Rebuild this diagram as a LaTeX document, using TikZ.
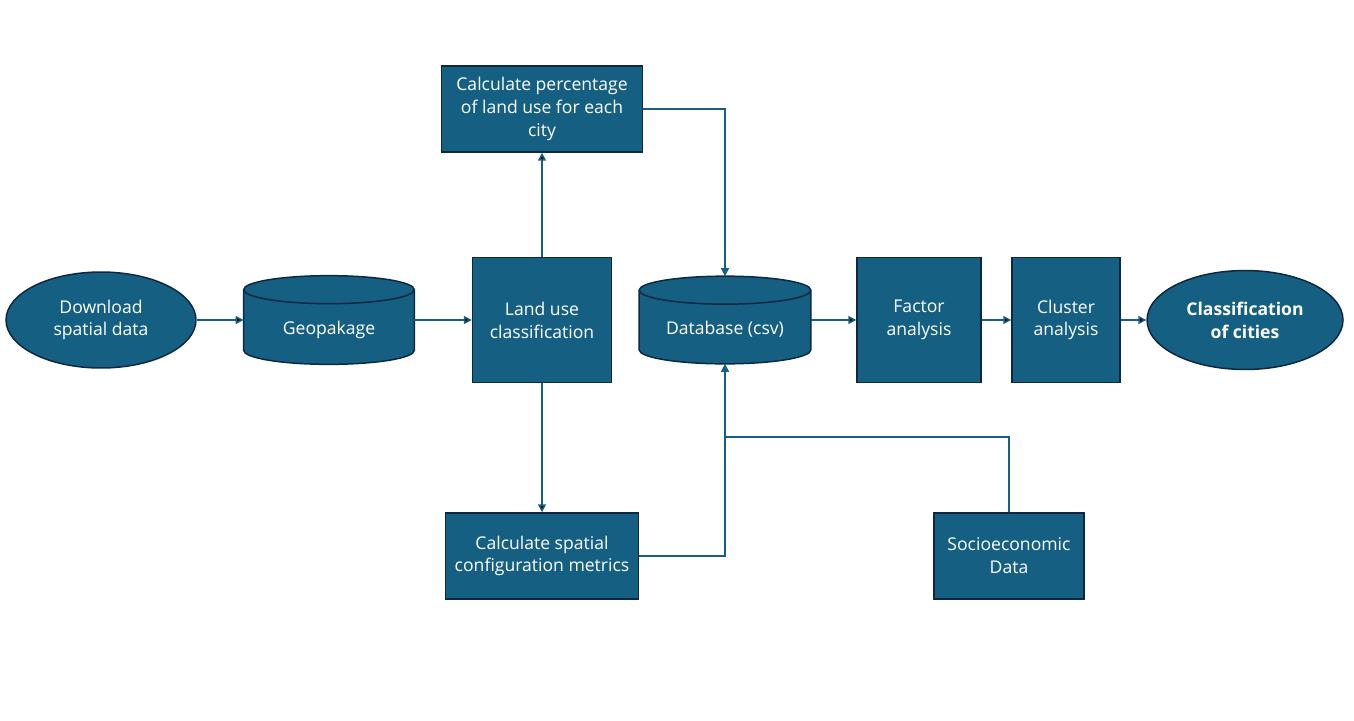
\documentclass[tikz,border=0pt]{standalone}
\usepackage{fontspec}
\setmainfont{Open Sans}
\usetikzlibrary{arrows.meta,shapes.geometric,backgrounds,calc}
\definecolor{boxblue}{HTML}{156082}
\definecolor{rimdark}{HTML}{0E2841}

\begin{document}
\begin{tikzpicture}[x=0.02cm,y=-0.02cm,
  every node/.style={font=\fontsize{10}{13}\selectfont,text=white},
  stepbox/.style={draw=rimdark,fill=boxblue,line width=0.85pt,align=center,inner sep=2pt},
  terminal/.style={stepbox,ellipse,inner sep=0pt},
  store/.style={align=center,inner sep=0pt,text height=19.5pt,text depth=2.5pt},
  drum/.style={draw=rimdark,fill=boxblue,line width=0.85pt},
  route/.style={-{Triangle[length=1.6mm,width=1.6mm]},draw=boxblue,line width=0.85pt},
  link/.style={draw=boxblue,line width=0.85pt}
]
  \useasboundingbox (0,0) rectangle (1354,720);

  \node[terminal,minimum width=38mm,minimum height=19.2mm] (download) at (101,320) {Download\\spatial data};
  \node[store,minimum width=34mm,minimum height=17.6mm] (geopkg) at (329,320) {Geopakage};
  \node[stepbox,minimum width=27.8mm,minimum height=25mm] (landuse) at (542,320) {Land use\\classification};
  \node[stepbox,minimum width=40.2mm,minimum height=17.2mm] (percent) at (542,109) {Calculate percentage\\of land use for each\\city};
  \node[stepbox,minimum width=38.6mm,minimum height=17.2mm] (spatial) at (542,556) {Calculate spatial\\configuration metrics};
  \node[store,minimum width=34.2mm,minimum height=17.4mm] (database) at (725,320) {Database (csv)};
  \node[stepbox,minimum width=24.8mm,minimum height=25mm] (factor) at (919,320) {Factor\\analysis};
  \node[stepbox,minimum width=21.6mm,minimum height=25mm] (cluster) at (1066,320) {Cluster\\analysis};
  \node[terminal,minimum width=39.2mm,minimum height=19.8mm,font=\fontsize{10}{13}\selectfont\bfseries] (classes) at (1245,320) {Classification\\of cities};
  \node[stepbox,minimum width=30mm,minimum height=17.2mm] (socio) at (1009,556) {Socioeconomic\\Data};
  \coordinate (merge) at (725,437);

  % cylinders behind the two data stores
  \begin{scope}[on background layer]
    \foreach \s in {geopkg,database}{
      \path[drum] let \p1=(\s.north west), \p2=(\s.south east), \n1={(\x2-\x1)/2} in
        (\x1,\y1-2.8mm) -- (\x1,\y2+2.8mm)
        arc[start angle=180,end angle=360,x radius=\n1,y radius=2.8mm]
        -- (\x2,\y1-2.8mm)
        arc[start angle=0,end angle=180,x radius=\n1,y radius=2.8mm] -- cycle;
      \draw[drum,fill=none] let \p1=(\s.north west), \p2=(\s.south east), \n1={(\x2-\x1)/2} in
        (\x1,\y1-2.8mm) arc[start angle=180,end angle=360,x radius=\n1,y radius=2.8mm];
    }
  \end{scope}

  \path[route]
    (download) edge (geopkg)
    (geopkg) edge (landuse)
    (landuse) edge (percent)
    (landuse) edge (spatial)
    (database) edge (factor)
    (factor) edge (cluster)
    (cluster) edge (classes);
  \draw[route] (percent) -| (database);
  \draw[route] (spatial) -| (database);
  \draw[link] (socio) |- (merge);
\end{tikzpicture}
\end{document}
